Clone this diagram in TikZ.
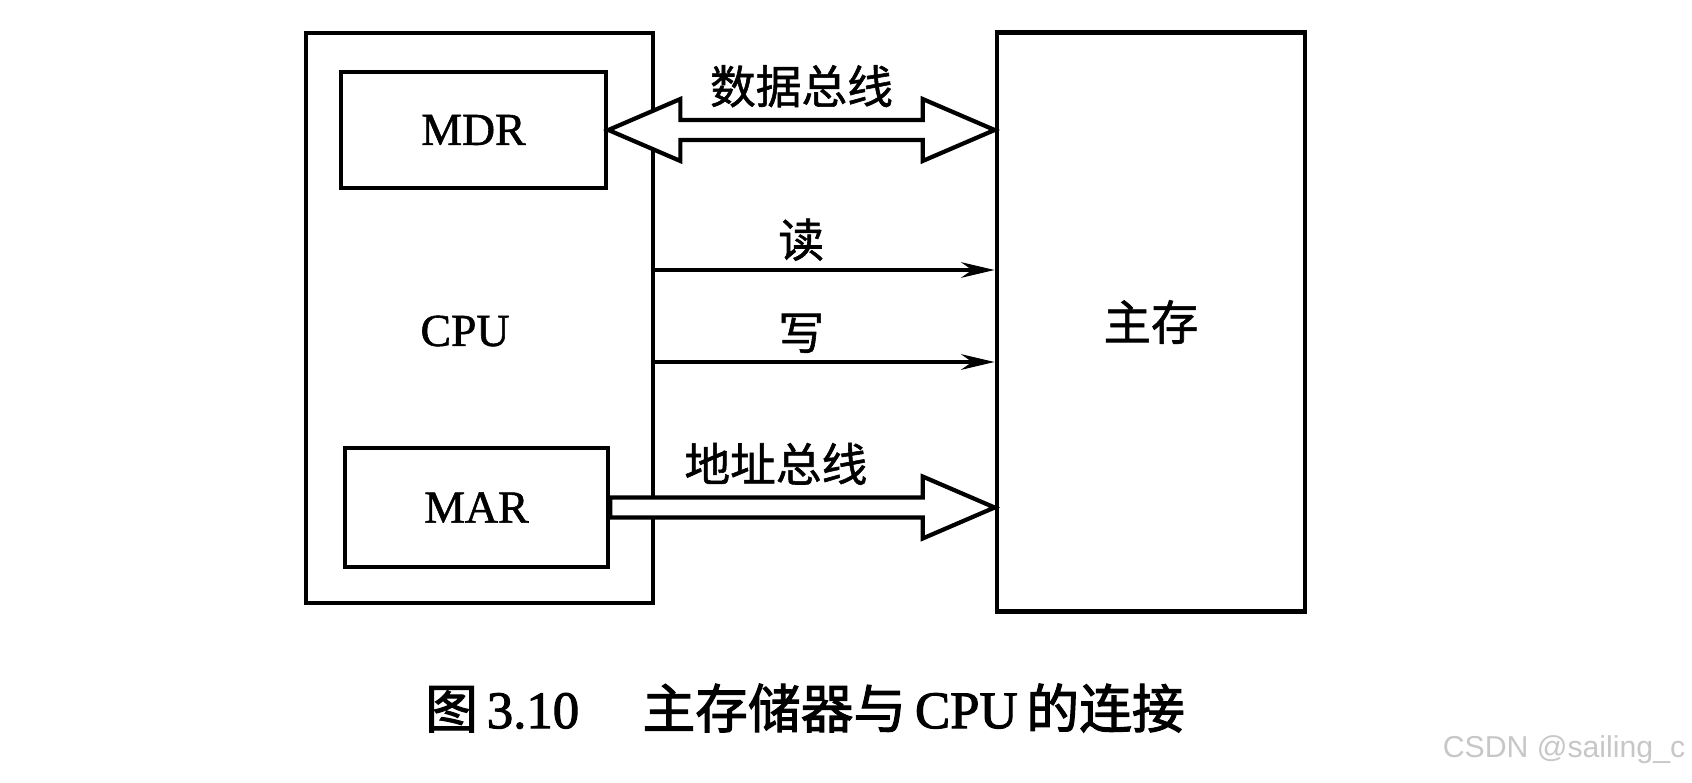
\documentclass[tikz,border=0pt]{standalone}
\usepackage{fontspec}
\setmainfont{Liberation Serif}[FakeBold=1.2]
\newfontfamily\cjk{Noto Sans CJK SC}[FakeBold=1.2]
\newfontfamily\capfont{Liberation Serif}[FakeBold=2]
\newfontfamily\capcjk{Noto Sans CJK SC}[FakeBold=2]
\newfontfamily\wmfont{Liberation Sans}
\usetikzlibrary{arrows.meta,calc}
\tikzset{
  unit/.style 2 args={draw, line width=1.3pt, minimum width=#1, minimum height=#2, inner sep=0pt},
  lbl/.style={font=\fontsize{13}{15}\selectfont\cjk, inner sep=2pt},
  bus/.style={draw, fill=white, line width=1.2pt, line join=miter},
}
\begin{document}
\begin{tikzpicture}[x=0.01cm, y=-0.01cm, >={Stealth[length=9.5pt,width=4.4pt]}, line width=1.2pt, font=\fontsize{13}{15}\selectfont]
	\useasboundingbox (0,0) rectangle (1692,782);
	\node[unit={3.47cm}{5.70cm}] (cpu) at (479.5,318) {};
	\node (cputxt) at (465,331) {CPU};
	\node[unit={2.65cm}{1.16cm}] (mdr) at (473.5,130) {MDR};
	\node[unit={2.63cm}{1.19cm}] (mar) at (476.5,507.5) {MAR};
	\node[unit={3.08cm}{5.79cm}, font=\fontsize{13.5}{15}\selectfont\cjk] (mem) at (1151,322) {主存};
	\coordinate (dbr) at (mem.west |- mdr.east);
	\coordinate (abr) at (mem.west |- mar.east);
	\draw[bus] (mdr.east) -- ++(72,-31) -- ++(0,21) -- ($(dbr)+(-72,-10)$) node[lbl, midway, above=1pt]{数据总线} -- ++(0,-21) -- (dbr) -- ++(-72,31) -- ++(0,-21) -- ($(mdr.east)+(72,10)$) -- ++(0,21) -- cycle;
	\draw[->] (cpu.east |- 0,270) -- (mem.west |- 0,270) node[lbl, pos=.43, above=0pt]{读};
	\draw[->] (cpu.east |- 0,362) -- (mem.west |- 0,362) node[lbl, pos=.43, above=0pt]{写};
	\draw[bus] ($(mar.east)+(0,-10)$) -- ($(abr)+(-72,-10)$) node[lbl, pos=.53, above=1pt]{地址总线} -- ++(0,-21) -- (abr) -- ++(-72,31) -- ++(0,-21) -- ($(mar.east)+(0,10)$) -- cycle;
	\node[font=\fontsize{15}{17}\selectfont\capfont] (cap) at (805,708) {{\capcjk 图}\,3.10\hspace{1.2em}{\capcjk 主存储器与}\,CPU\,{\capcjk 的连接}};
	\node[text=black!22, font=\fontsize{8.6}{10}\selectfont\wmfont] (wm) at (1564,750) {CSDN @sailing\_c};
\end{tikzpicture}
\end{document}
